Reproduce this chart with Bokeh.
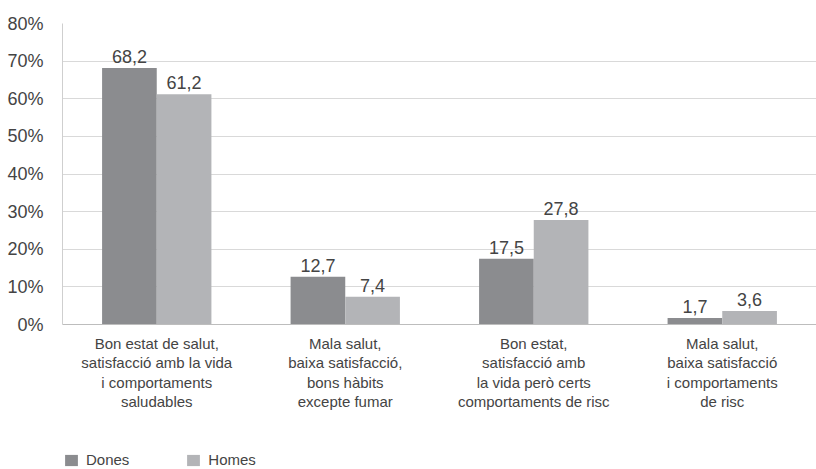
from bokeh.plotting import figure
from bokeh.layouts import column
from bokeh.core.properties import value
from bokeh.models import ColumnDataSource, FactorRange, Range1d, FixedTicker, Legend, LegendItem
from bokeh.transform import dodge
from bokeh.embed import file_html
from bokeh.resources import INLINE

categories = [
    "Bon estat de salut,\nsatisfacció amb la vida\ni comportaments\nsaludables",
    "Mala salut,\nbaixa satisfacció,\nbons hàbits\nexcepte fumar",
    "Bon estat,\nsatisfacció amb\nla vida però certs\ncomportaments de risc",
    "Mala salut,\nbaixa satisfacció\ni comportaments\nde risc",
]
dones = [68.2, 12.7, 17.5, 1.7]
homes = [61.2, 7.4, 27.8, 3.6]
series_names = ["Dones", "Homes"]
y_ticks = [0, 10, 20, 30, 40, 50, 60, 70, 80]
y_tick_labels = ["0%", "10%", "20%", "30%", "40%", "50%", "60%", "70%", "80%"]

FONT = "Liberation Sans"
TXT = "#444444"
C_DONES = "#8b8c8f"
C_HOMES = "#b3b4b7"

def fmt(v):
    return f"{v:.1f}".replace(".", ",")

source = ColumnDataSource(data=dict(
    cat=categories,
    dones=dones,
    homes=homes,
    dones_lbl=[fmt(v) for v in dones],
    homes_lbl=[fmt(v) for v in homes],
))

p = figure(
    x_range=FactorRange(factors=categories, range_padding=0),
    y_range=Range1d(0, 80),
    width=816, height=416,
    output_backend="svg", toolbar_location=None,
    min_border_left=62, min_border_right=0, min_border_top=23, min_border_bottom=92,
)
p.outline_line_color = None
p.background_fill_color = "white"
p.border_fill_color = "white"

bw = 0.29
p.vbar(x=dodge("cat", -bw / 2, range=p.x_range), top="dones", width=bw,
       source=source, fill_color=C_DONES, line_color=None)
p.vbar(x=dodge("cat", bw / 2, range=p.x_range), top="homes", width=bw,
       source=source, fill_color=C_HOMES, line_color=None)

p.text(x=dodge("cat", -bw / 2, range=p.x_range), y="dones", text="dones_lbl", source=source,
       text_align="center", text_baseline="bottom", y_offset=-5,
       text_font=value(FONT), text_font_size="18px", text_color=TXT)
p.text(x=dodge("cat", bw / 2, range=p.x_range), y="homes", text="homes_lbl", source=source,
       text_align="center", text_baseline="bottom", y_offset=-5,
       text_font=value(FONT), text_font_size="18px", text_color=TXT)

# axes
p.yaxis.ticker = FixedTicker(ticks=y_ticks)
p.yaxis.major_label_overrides = {t: l for t, l in zip(y_ticks, y_tick_labels)}
p.yaxis.major_tick_line_color = None
p.yaxis.major_tick_out = 0
p.yaxis.major_tick_in = 0
p.yaxis.minor_tick_line_color = None
p.yaxis.axis_line_color = "#cfcfcf"
p.yaxis.major_label_standoff = 19
p.yaxis.major_label_text_font = FONT
p.yaxis.major_label_text_font_size = "18px"
p.yaxis.major_label_text_color = TXT

p.xaxis.major_tick_line_color = None
p.xaxis.major_tick_out = 0
p.xaxis.major_tick_in = 0
p.xaxis.minor_tick_line_color = None
p.xaxis.axis_line_color = "#bdbdbd"
p.xaxis.major_label_standoff = 10
p.xaxis.major_label_text_font = FONT
p.xaxis.major_label_text_font_size = "15px"
p.xaxis.major_label_text_color = TXT
p.xaxis.major_label_text_line_height = 1.15

p.xgrid.grid_line_color = None
p.ygrid.grid_line_color = "#d9d9d9"
p.ygrid.ticker = FixedTicker(ticks=y_ticks)

# legend strip below the chart (zero-width proxy bars outside its visible y range)
lf = figure(width=816, height=53, output_backend="svg", toolbar_location=None,
            min_border=0, x_range=FactorRange(factors=categories), y_range=Range1d(100, 200),
            x_axis_location=None, y_axis_location=None)
lf.grid.visible = False
lf.outline_line_color = None
lr1 = lf.vbar(x="cat", top="dones", width=0, source=source, fill_color=C_DONES, line_color=None)
lr2 = lf.vbar(x="cat", top="homes", width=0, source=source, fill_color=C_HOMES, line_color=None)
legend = Legend(
    items=[LegendItem(label=series_names[0], renderers=[lr1]),
           LegendItem(label=series_names[1], renderers=[lr2])],
    orientation="horizontal", location=(1, 1),
    border_line_color=None, background_fill_alpha=0,
    padding=0, margin=0, spacing=56,
    glyph_width=16, glyph_height=14, label_standoff=7,
    label_text_font=FONT, label_text_font_size="15px", label_text_color=TXT,
    label_height=14,
)
lf.add_layout(legend, "center")

layout = column(p, lf, spacing=0)
open("out.html", "w").write(file_html(layout, INLINE))
